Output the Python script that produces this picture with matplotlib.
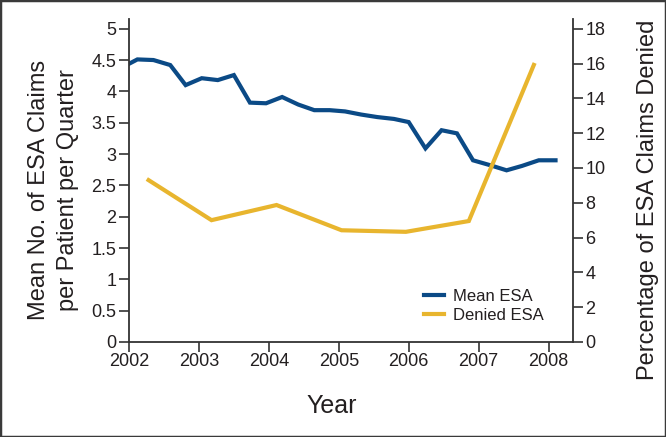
import matplotlib
matplotlib.use("Agg")
import matplotlib.pyplot as plt
from matplotlib.patches import Rectangle

# Data
mean_years = [2002.0, 2002.12, 2002.35, 2002.59, 2002.81, 2003.04, 2003.27, 2003.50,
              2003.73, 2003.96, 2004.19, 2004.42, 2004.65, 2004.87, 2005.09, 2005.32,
              2005.55, 2005.79, 2006.0, 2006.24, 2006.47, 2006.69, 2006.92, 2007.17,
              2007.40, 2007.62, 2007.86, 2008.1]
mean_esa = [4.44, 4.51, 4.50, 4.42, 4.10, 4.21, 4.18, 4.26,
            3.82, 3.81, 3.91, 3.79, 3.70, 3.70, 3.68, 3.63,
            3.59, 3.56, 3.51, 3.09, 3.38, 3.33, 2.90, 2.82,
            2.74, 2.81, 2.90, 2.90]
denied_years = [2002.28, 2003.18, 2004.11, 2005.04, 2005.96, 2006.86, 2007.79]
denied_esa = [9.3, 7.0, 7.87, 6.42, 6.33, 6.95, 15.92]

left_ticks = [0, 0.5, 1, 1.5, 2, 2.5, 3, 3.5, 4, 4.5, 5]
left_ticklabels = ["0", "0.5", "1", "1.5", "2", "2.5", "3", "3.5", "4", "4.5", "5"]
right_ticks = [0, 2, 4, 6, 8, 10, 12, 14, 16, 18]
x_ticks = [2002, 2003, 2004, 2005, 2006, 2007, 2008]

BLUE = "#0b4a86"
GOLD = "#e8b52e"
TXT = "#231f20"
plt.rcParams['font.family'] = ["Liberation Sans", "DejaVu Sans"]

fig = plt.figure(figsize=(6.66, 4.37), dpi=100)
ax = fig.add_axes([129/666, 1 - 342/437, (573-129)/666, (342-19)/437])
ax2 = ax.twinx()

ax.plot(mean_years, mean_esa, color=BLUE, lw=3.0, solid_joinstyle='miter', label="Mean ESA")
ax2.plot(denied_years, denied_esa, color=GOLD, lw=3.0, solid_joinstyle='miter', label="Denied ESA")

ax.set_xlim(2002, 2008.35)
ax.set_ylim(0, 5.155)
ax2.set_ylim(0, 5.155 * 3.6)

for a in (ax, ax2):
    a.spines['top'].set_visible(False)
    for s in a.spines.values():
        s.set_linewidth(1.3)
        s.set_color("#333333")
ax.spines['right'].set_visible(False)
ax2.spines['left'].set_visible(False)
ax2.spines['bottom'].set_visible(False)

ax.set_xticks(x_ticks)
ax.set_xticklabels([str(x) for x in x_ticks])
ax.set_yticks(left_ticks)
ax.set_yticklabels(left_ticklabels)
ax2.set_yticks(right_ticks)
ax2.set_yticklabels([str(v) for v in right_ticks])

ax.tick_params(axis='both', direction='out', length=7, width=1.2, color="#333333",
               labelsize=13, labelcolor=TXT, pad=2)
ax.tick_params(axis='x', pad=1)
ax2.tick_params(axis='y', direction='out', length=7, width=1.2, color="#333333",
                labelsize=13, labelcolor=TXT, pad=2)

ax.set_ylabel("Mean No. of ESA Claims\nper Patient per Quarter", fontsize=17, color=TXT,
              linespacing=1.45)
ax.yaxis.set_label_coords(-0.112, 0.47)
ax2.set_ylabel("Percentage of ESA Claims Denied", fontsize=17, color=TXT)
ax2.yaxis.set_label_coords(1.144, 0.44)
ax.set_xlabel("Year", fontsize=18, color=TXT)
ax.xaxis.set_label_coords(0.457, -0.162)

h1, l1 = ax.get_legend_handles_labels()
h2, l2 = ax2.get_legend_handles_labels()
leg = ax2.legend(h1 + h2, l1 + l2, loc='lower left', bbox_to_anchor=(0.665, 0.058),
                 frameon=False, handlelength=1.2, handletextpad=0.5,
                 labelspacing=0.25, borderpad=0, borderaxespad=0,
                 prop={'family': ['Liberation Sans', 'DejaVu Sans'], 'size': 12})
for t in leg.get_texts():
    t.set_color(TXT)

fig.patches.append(Rectangle((0, 0), 1, 1, transform=fig.transFigure, fill=False,
                             edgecolor="#3a3a3a", lw=2.5, zorder=10))

fig.savefig("out.png", dpi=100)
